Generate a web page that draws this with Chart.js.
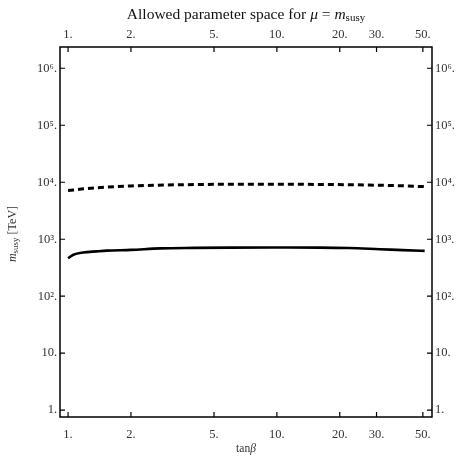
<!DOCTYPE html>
<html>
<head>
<meta charset="utf-8">
<script src="https://cdn.jsdelivr.net/npm/chart.js@4.4.1/dist/chart.umd.min.js"></script>
<style>
  html, body { margin: 0; padding: 0; background: #fff; }
  #wrap { width: 459px; height: 458px; }
</style>
</head>
<body>
<div id="wrap"><canvas id="paramChart"></canvas></div>
<script>
// tan(beta) sample points and the two boundary curves (TeV)
const tanBetaSolid = [1.0, 1.06, 1.18, 1.37, 1.53, 2.0, 2.76, 4.0, 6.0, 10.0, 16.0, 22.0, 31.0, 40.0, 51.0];
const mSusySolid   = [464, 535, 585, 612, 630, 650, 690, 705, 713, 716, 713, 700, 668, 645, 624];

const tanBetaDashed = [1.0, 1.2, 1.5, 2.0, 3.0, 6.0, 10.0, 16.0, 30.0, 40.0, 51.0];
const mSusyDashed   = [7150, 7700, 8150, 8600, 8950, 9220, 9250, 9150, 8880, 8650, 8370];

// tick values on the axes
const xTickValues = [1, 2, 5, 10, 20, 30, 50];
const yTickValues = [1, 10, 1e2, 1e3, 1e4, 1e5, 1e6];

const SERIF = "'Liberation Serif', 'Times New Roman', serif";
const tickFont = { family: SERIF, size: 12.5 };
const tickColor = '#333';

const sup = { '0': '⁰', '1': '¹', '2': '²', '3': '³', '4': '⁴', '5': '⁵', '6': '⁶', '7': '⁷', '8': '⁸', '9': '⁹' };
function yLabel(v) {
    let e = Math.round(Math.log10(v));
    if (e === 0) return '1.';
    if (e === 1) return '10.';
    return '10' + String(e).split('').map(c => sup[c]).join('') + '.';
}

function pairs(xs, ys) {
    return xs.map((x, i) => ({ x: x, y: ys[i] }));
}

// draws a row of text pieces with different fonts / baseline shifts
function drawRuns(ctx, runs, cx, cy) {
    let total = 0;
    runs.forEach(r => { ctx.font = r.font; r.w = ctx.measureText(r.text).width; total += r.w; });
    let x = cx - total / 2;
    ctx.textAlign = 'left';
    ctx.textBaseline = 'middle';
    runs.forEach(r => {
        ctx.font = r.font;
        ctx.fillText(r.text, x, cy + (r.dy || 0));
        x += r.w;
    });
}

const framePlugin = {
    id: 'frame',
    afterDraw(chart) {
        const ctx = chart.ctx;
        const a = chart.chartArea;
        const sx = chart.scales.x, sy = chart.scales.y;
        ctx.save();
        ctx.strokeStyle = '#000';
        ctx.lineWidth = 1.5;
        ctx.strokeRect(a.left, a.top, a.right - a.left, a.bottom - a.top);

        // inward tick marks on all four sides
        ctx.lineWidth = 1.2;
        ctx.beginPath();
        xTickValues.forEach(v => {
            let px = sx.getPixelForValue(v);
            ctx.moveTo(px, a.bottom); ctx.lineTo(px, a.bottom - 5);
            ctx.moveTo(px, a.top); ctx.lineTo(px, a.top + 5);
        });
        yTickValues.forEach(v => {
            let py = sy.getPixelForValue(v);
            ctx.moveTo(a.left, py); ctx.lineTo(a.left + 5, py);
            ctx.moveTo(a.right, py); ctx.lineTo(a.right - 5, py);
        });
        ctx.stroke();

        // title
        ctx.fillStyle = '#111';
        const cx = (a.left + a.right) / 2;
        drawRuns(ctx, [
            { text: 'Allowed parameter space for ', font: '15.5px ' + SERIF },
            { text: 'μ', font: 'italic 15.5px ' + SERIF },
            { text: ' = ', font: '15.5px ' + SERIF },
            { text: 'm', font: 'italic 15.5px ' + SERIF },
            { text: 'susy', font: '11px ' + SERIF, dy: 3.5 }
        ], cx, 15);

        // x axis title
        ctx.fillStyle = '#333';
        drawRuns(ctx, [
            { text: 'tan', font: '11.5px ' + SERIF },
            { text: 'β', font: 'italic 11.5px ' + SERIF }
        ], cx, 449);

        // y axis title
        ctx.translate(13, 234);
        ctx.rotate(-Math.PI / 2);
        drawRuns(ctx, [
            { text: 'm', font: 'italic 12px ' + SERIF },
            { text: 'susy', font: '9px ' + SERIF, dy: 3 },
            { text: ' [TeV]', font: '12px ' + SERIF }
        ], 0, 0);
        ctx.restore();
    }
};

function xAxis(pos, size, pad) {
    return {
        type: 'logarithmic',
        position: pos,
        min: 0.915,
        max: 55.3,
        afterBuildTicks: s => { s.ticks = xTickValues.map(v => ({ value: v })); },
        afterFit: s => { s.height = size; },
        ticks: {
            callback: v => v + '.',
            font: tickFont,
            color: tickColor,
            padding: pad,
            maxRotation: 0,
            autoSkip: false
        },
        grid: { display: false, drawTicks: false },
        border: { display: false }
    };
}

function yAxis(pos, size) {
    return {
        type: 'logarithmic',
        position: pos,
        min: 0.76,
        max: 2.36e6,
        afterBuildTicks: s => { s.ticks = yTickValues.map(v => ({ value: v })); },
        afterFit: s => { s.width = size; },
        ticks: {
            callback: v => yLabel(v),
            font: tickFont,
            color: tickColor,
            padding: 3,
            autoSkip: false
        },
        grid: { display: false, drawTicks: false },
        border: { display: false }
    };
}

let ctx = document.getElementById('paramChart').getContext('2d');
let paramChart = new Chart(ctx, {
    type: 'line',
    data: {
        datasets: [
            {
                label: 'solid',
                data: pairs(tanBetaSolid, mSusySolid),
                borderColor: '#000',
                borderWidth: 2.6,
                pointRadius: 0,
                fill: false,
                cubicInterpolationMode: 'monotone',
                xAxisID: 'x',
                yAxisID: 'y'
            },
            {
                label: 'dashed',
                data: pairs(tanBetaDashed, mSusyDashed),
                borderColor: '#000',
                borderWidth: 3,
                borderDash: [6, 4],
                pointRadius: 0,
                fill: false,
                cubicInterpolationMode: 'monotone',
                xAxisID: 'x',
                yAxisID: 'y'
            }
        ]
    },
    options: {
        responsive: true,
        maintainAspectRatio: false,
        animation: false,
        layout: { padding: 0 },
        scales: {
            x: xAxis('bottom', 41, 10),
            x2: xAxis('top', 47, 5),
            y: yAxis('left', 60),
            y2: yAxis('right', 27)
        },
        plugins: {
            legend: { display: false },
            tooltip: { enabled: false }
        }
    },
    plugins: [framePlugin]
});
</script>
</body>
</html>
